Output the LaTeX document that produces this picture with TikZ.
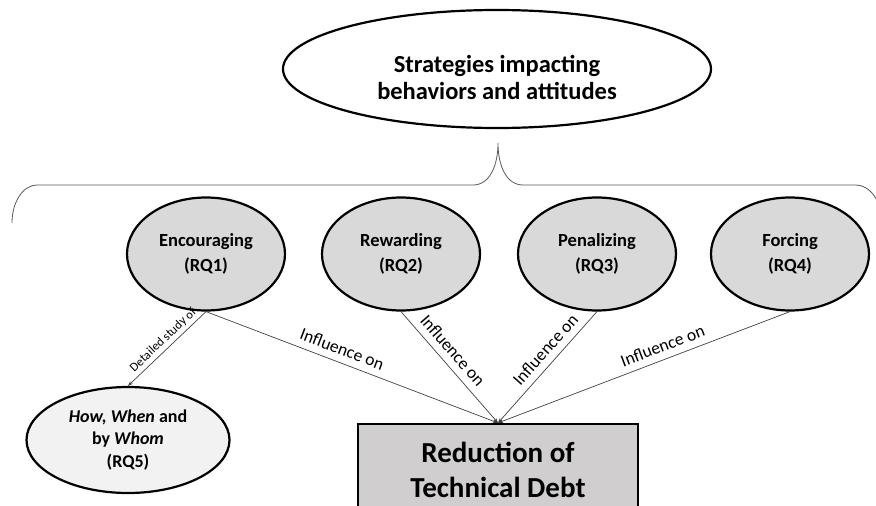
\documentclass[tikz,border=0pt]{standalone}
\usepackage{fontspec}
\setmainfont{Carlito}
\usetikzlibrary{shapes.geometric,arrows.meta}
\definecolor{strat}{HTML}{D9D9D9}
\definecolor{rqfive}{HTML}{F2F2F2}
\definecolor{rectfill}{HTML}{D0CECE}
\definecolor{conn}{HTML}{404040}
\definecolor{bracec}{HTML}{595959}
\tikzset{
  stratnode/.style={ellipse,draw=black,line width=2.2pt,fill=strat,minimum width=158pt,minimum height=113pt,inner sep=0pt,align=center,font=\fontsize{18.5}{24.5}\selectfont\bfseries},
  conline/.style={draw=conn,line width=0.7pt,-{Stealth[length=5pt,width=3.5pt]}},
  inflabel/.style={sloped,above=7pt,inner sep=0pt,font=\fontsize{17.5}{20}\selectfont,text=black},
}
\begin{document}
\begin{tikzpicture}[x=1pt,y=1pt]
\useasboundingbox (0,0) rectangle (876,-506);
\clip (0,0) rectangle (876,-506);
% top ellipse
\node[ellipse,draw=black,line width=2.2pt,fill=white,minimum width=428pt,minimum height=118pt,inner sep=0pt] (top) at (497,-69) {};
\node[align=center,inner sep=0pt,font=\fontsize{24.5}{27}\selectfont\bfseries] (toptext) at (497,-77) {Strategies impacting\\behaviors and attitudes};
% brace
\draw[bracec,line width=0.8pt] (12,-223) .. controls (12,-202) and (23,-185) .. (37,-185) -- (473,-185) .. controls (490,-185) and (498,-165) .. (498,-143) .. controls (498,-165) and (506,-185) .. (523,-185) -- (856,-185) .. controls (869,-185) and (882,-200) .. (882,-223);
% strategy ellipses
\node[stratnode] (enc) at (206,-254) {Encouraging\\(RQ1)};
\node[stratnode] (rew) at (401,-254) {Rewarding\\(RQ2)};
\node[stratnode] (pen) at (597,-254) {Penalizing\\(RQ3)};
\node[stratnode] (for) at (790,-254) {Forcing\\(RQ4)};
% RQ5
\node[ellipse,draw=black,line width=2.2pt,fill=rqfive,minimum width=203pt,minimum height=106pt,inner sep=0pt,align=center,font=\fontsize{18}{22.5}\selectfont\bfseries] (rq5) at (128,-440) {\textit{How, When} and\\by \textit{Whom}\\(RQ5)};
% target rectangle
\node[rectangle,draw=black,line width=2.2pt,fill=rectfill,minimum width=280pt,minimum height=92pt,inner sep=0pt,align=center,font=\fontsize{29}{35}\selectfont\bfseries] (red) at (498,-470) {Reduction of\\Technical Debt};
% connectors
\draw[conline] (enc.south) -- node[inflabel,pos=0.45] {Influence on} (red.north);
\draw[conline] (rew.south) -- node[inflabel,pos=0.43] {Influence on} (red.north);
\draw[conline] (pen.south) -- node[inflabel,pos=0.42] {Influence on} (red.north);
\draw[conline] (for.south) -- node[inflabel,pos=0.42] {Influence on} (red.north);
\draw[conline] (enc.south) -- node[sloped,above=3pt,inner sep=0pt,font=\fontsize{12.5}{14}\selectfont,pos=0.47] {Detailed study of} (rq5.north);
\end{tikzpicture}
\end{document}
